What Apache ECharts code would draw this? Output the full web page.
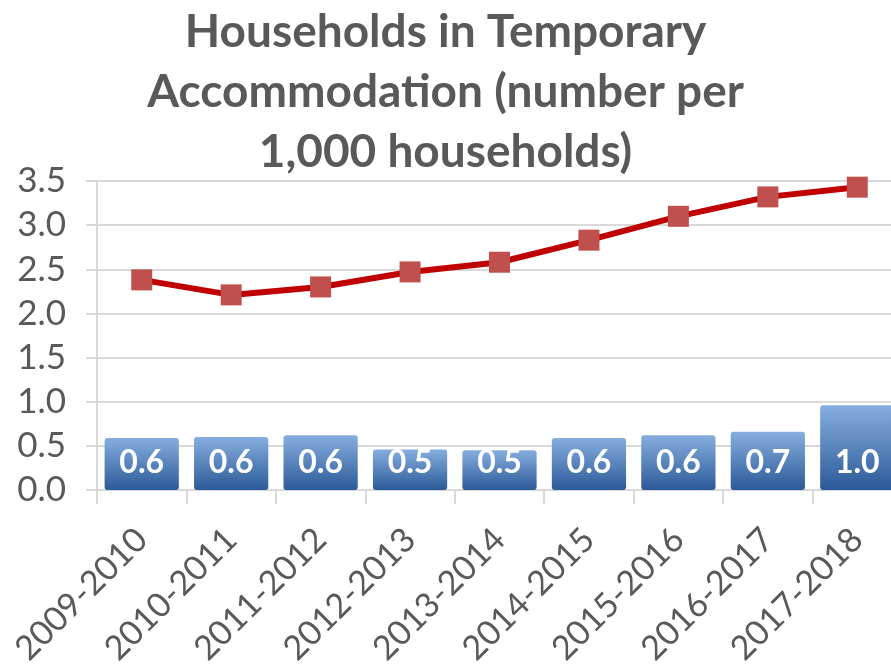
<!DOCTYPE html>
<html>
<head>
<meta charset="utf-8">
<script src="https://cdn.jsdelivr.net/npm/echarts@6/dist/echarts.min.js"></script>
<style>
    html, body { margin: 0; padding: 0; background: #fff; }
    #main { width: 891px; height: 665px; }
</style>
</head>
<body>
<div id="main"></div>
<script>
    var years = ['2009-2010', '2010-2011', '2011-2012', '2012-2013', '2013-2014',
        '2014-2015', '2015-2016', '2016-2017', '2017-2018'];
    var barValues = [0.59, 0.60, 0.62, 0.46, 0.45, 0.59, 0.62, 0.66, 0.96];
    var lineValues = [2.38, 2.21, 2.30, 2.47, 2.58, 2.83, 3.10, 3.32, 3.43];
    var titleText = 'Households in Temporary\nAccommodation (number per\n1,000 households)';

    var myChart = echarts.init(document.getElementById('main'));
    var option = {
        animation: false,
        textStyle: {fontFamily: 'Lato', color: '#595959'},
        title: {
            text: titleText,
            left: 'center',
            top: -3,
            padding: [5, 15, 5, 5],
            textStyle: {
                fontFamily: 'Lato',
                fontSize: 46,
                fontWeight: 'bold',
                color: '#595959',
                lineHeight: 60
            }
        },
        grid: {left: 97, right: -11, top: 181, bottom: 175, outerBoundsMode: 'none', containLabel: false},
        xAxis: {
            type: 'category',
            data: years,
            axisLine: {show: true, lineStyle: {color: '#d9d9d9', width: 2}},
            axisTick: {show: true, alignWithLabel: false, length: 14, lineStyle: {color: '#d9d9d9', width: 2}},
            axisLabel: {
                rotate: 45,
                margin: 44,
                fontSize: 34,
                color: '#595959',
                fontFamily: 'Lato',
                interval: 0
            }
        },
        yAxis: {
            type: 'value',
            min: 0,
            max: 3.5,
            interval: 0.5,
            axisLine: {show: true, lineStyle: {color: '#d9d9d9', width: 2}},
            axisTick: {show: true, length: 11, lineStyle: {color: '#d9d9d9', width: 2}},
            splitLine: {lineStyle: {color: '#d9d9d9', width: 2}},
            axisLabel: {
                margin: 31,
                fontSize: 35,
                color: '#595959',
                fontFamily: 'Lato',
                formatter: function (v) { return v.toFixed(1); }
            }
        },
        series: [
            {
                type: 'bar',
                data: barValues,
                barCategoryGap: '17%',
                itemStyle: {
                    borderRadius: 3,
                    color: {
                        type: 'linear', x: 0, y: 0, x2: 0, y2: 1,
                        colorStops: [
                            {offset: 0, color: '#86aedf'},
                            {offset: 1, color: '#2c5a98'}
                        ]
                    }
                },
                label: {
                    show: true,
                    position: 'insideBottom',
                    distance: 11,
                    color: '#fff',
                    fontSize: 32,
                    fontWeight: 'bold',
                    fontFamily: 'Lato',
                    formatter: function (p) { return p.value.toFixed(1); }
                }
            },
            {
                type: 'line',
                data: lineValues,
                symbol: 'rect',
                symbolSize: 21,
                z: 5,
                lineStyle: {color: '#c00000', width: 6},
                itemStyle: {color: '#c0504d'}
            }
        ]
    };
    myChart.setOption(option);
</script>
</body>
</html>
